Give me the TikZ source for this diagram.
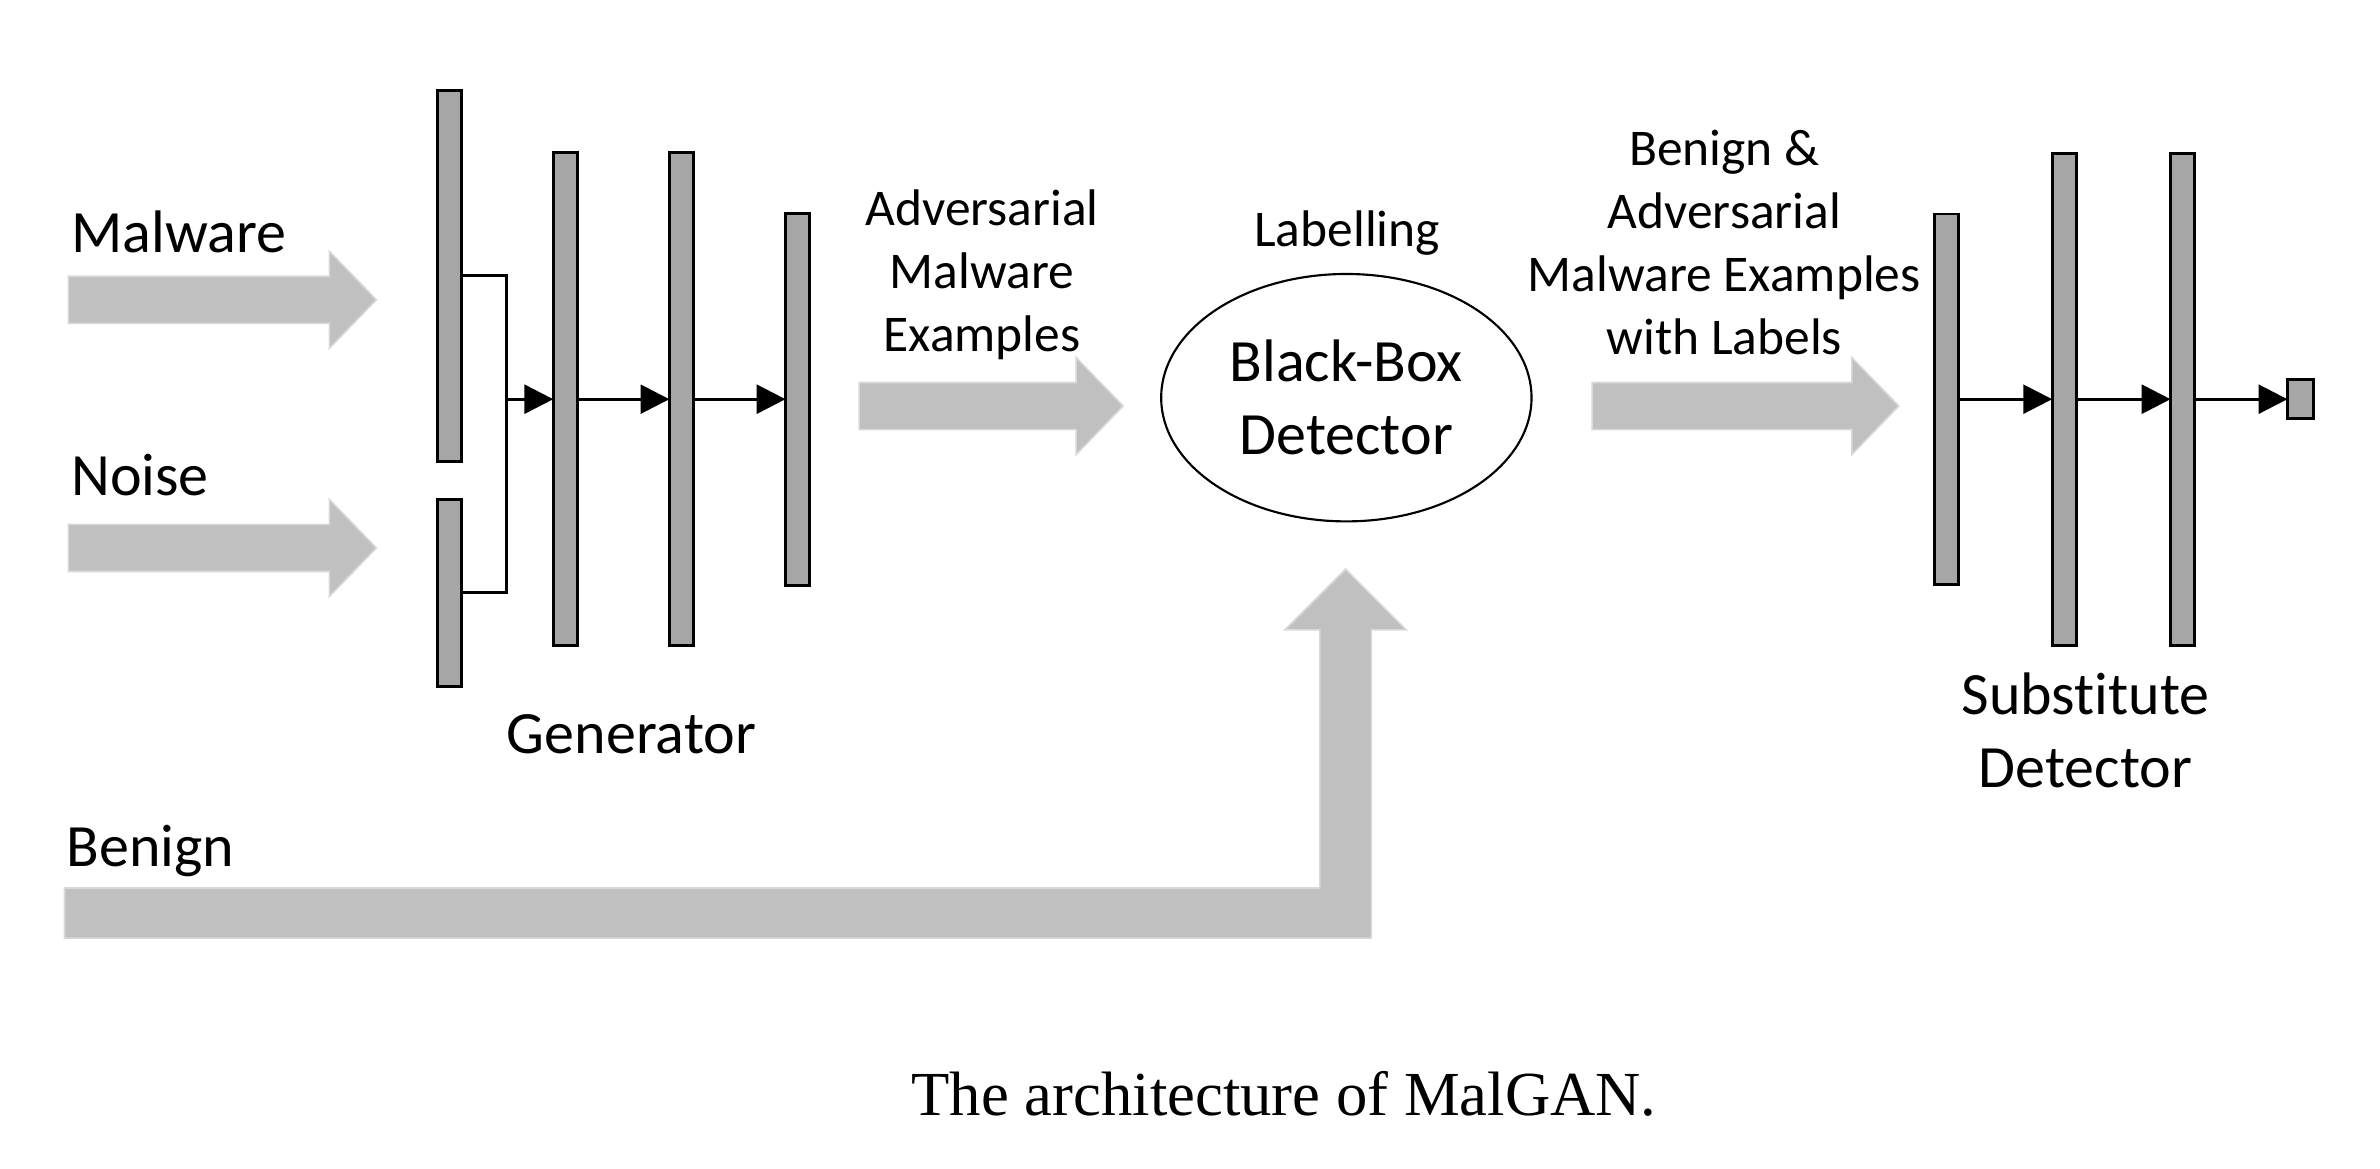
\documentclass[tikz,border=0pt]{standalone}
\usepackage{fontspec}
\setmainfont{Carlito}[Ligatures=NoCommon]
\newfontfamily\capserif{Liberation Serif}
\usepackage{tikz}
\usetikzlibrary{arrows.meta, positioning, shapes.geometric}
\definecolor{mgbar}{HTML}{A6A6A6}
\definecolor{mgfat}{HTML}{C0C0C0}
\definecolor{mgedge}{HTML}{D9D9D9}

% flecha gruesa gris: x inicio, x punta, y centro
\newcommand{\fatarrow}[3]{%
    \filldraw[fatstyle] (#1,#3+0.31) -- (#2-0.62,#3+0.31) -- (#2-0.62,#3+0.64)
        -- (#2,#3) -- (#2-0.62,#3-0.64) -- (#2-0.62,#3-0.31) -- (#1,#3-0.31) -- cycle;}

\begin{document}
\begin{tikzpicture}[
        every node/.style={align=center, inner sep=0pt, outer sep=0pt},
        % ============= Estilos =============
        nnbar/.style={rectangle, fill=mgbar, draw=black, line width=1.1pt,
                      minimum width=0.32cm},
        nnarrow/.style={-{Triangle[length=0.38cm,width=0.38cm]}, line width=1.1pt},
        fatstyle/.style={fill=mgfat, draw=mgedge, line width=0.6pt},
        lblbig/.style={font=\fontsize{22.5pt}{27.4pt}\selectfont},
        lblsmall/.style={font=\fontsize{19.3pt}{23.6pt}\selectfont},
        bbox/.style={ellipse, draw=black, line width=0.8pt,
                     minimum width=4.88cm, minimum height=3.26cm}
    ]
        \useasboundingbox (0,0) rectangle (31.36,15.40);

        % ===== Entradas =====
        \node[lblbig, anchor=base west] (malLbl) at (0.94,12.07) {Malware};
        \node[lblbig, anchor=base west] (noiseLbl) at (0.94,8.87) {Noise};
        \node[lblbig, anchor=base west] (benLbl) at (0.88,3.98) {Benign};
        \fatarrow{0.90}{4.96}{11.45}
        \fatarrow{0.90}{4.96}{8.18}

        % ===== Generador =====
        \node[nnbar, minimum height=4.89cm] (g1) at (5.92,11.765) {};
        \node[nnbar, minimum height=2.46cm] (g0) at (5.92,7.59) {};
        \foreach \n/\xc/\h in {g2/7.45/6.50, g3/8.98/6.50, g4/10.51/4.90}{
            \node[nnbar, minimum height=\h cm] (\n) at (\xc,10.14) {};
        }
        \coordinate (mrg) at (6.67,10.14);
        \draw[line width=1.1pt] (g1.east) -| (mrg) |- (g0.east);
        \draw[nnarrow] (mrg) -- (g2.west);
        \foreach \a/\b in {g2/g3, g3/g4}
            \draw[nnarrow] (\a.east) -- (\b.west);
        \node[lblbig, anchor=base] (genLbl) at (8.32,5.47) {Generator};

        % ===== Detector de caja negra =====
        \node[lblsmall] (advLbl) at (12.94,11.78) {Adversarial\\Malware\\Examples};
        \fatarrow{11.32}{14.80}{10.05}
        \node[bbox, lblbig] (bbd) at (17.74,10.16) {Black-Box\\Detector};
        \node[lblsmall, anchor=base] (labLbl) at (17.75,12.15) {Labelling};
        \filldraw[fatstyle] (0.85,3.70) -- (17.39,3.70) -- (17.39,7.10) -- (16.93,7.10)
            -- (17.73,7.90) -- (18.53,7.10) -- (18.07,7.10) -- (18.07,3.04)
            -- (0.85,3.04) -- cycle;

        % ===== Detector sustituto =====
        \node[lblsmall] (bamLbl) at (22.72,12.20) {Benign \&\\Adversarial\\Malware Examples\\with Labels};
        \fatarrow{20.98}{25.02}{10.05}
        \foreach \n/\xc/\h in {s1/25.65/4.88, s2/27.20/6.48, s3/28.76/6.48}{
            \node[nnbar, minimum height=\h cm] (\n) at (\xc,10.14) {};
        }
        \node[nnbar, minimum width=0.34cm, minimum height=0.52cm] (sout) at (30.31,10.14) {};
        \foreach \a/\b in {s1/s2, s2/s3, s3/sout}
            \draw[nnarrow] (\a.east) -- (\b.west);
        \node[lblbig] (subLbl) at (27.48,5.78) {Substitute\\Detector};

        % ===== Pie =====
        \node[font=\capserif\fontsize{23.5pt}{28pt}\selectfont, anchor=base] (cap) at (16.92,0.70)
            {The architecture of MalGAN.};
\end{tikzpicture}
\end{document}
